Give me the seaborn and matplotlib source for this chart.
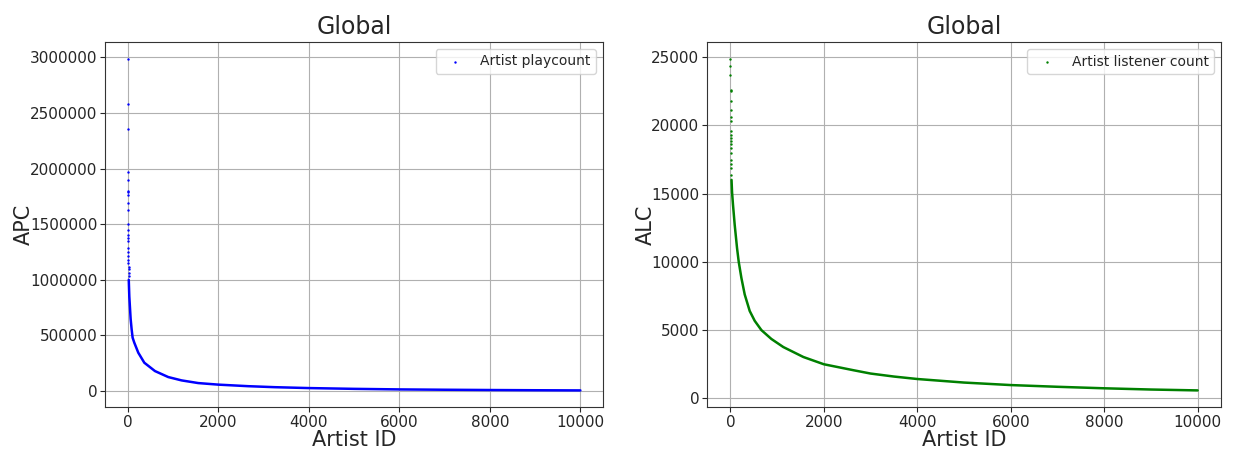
import pandas as pd
import matplotlib
matplotlib.use("Agg")
import matplotlib.pyplot as plt
import seaborn as sns

# values (artist id -> count)
apc_head = [2988000, 2581000, 2353000, 1973000, 1898000, 1802000, 1787000, 1763000,
            1692000, 1629000, 1503000, 1452000, 1407000, 1377000, 1347000, 1284000,
            1251000, 1213000, 1174000, 1147000, 1117000, 1093000, 1063000, 1033000]
apc_curve_x = [25, 37, 66, 88, 110, 147, 235, 368, 603, 897, 1191, 1559, 2000,
               2662, 3250, 4000, 5000, 6000, 7000, 8000, 9000, 10000]
apc_curve_y = [1000000, 850000, 650000, 556000, 480000, 435000, 345000, 255000,
               180000, 126000, 96000, 72000, 58000, 44000, 35000, 27000, 20000,
               15000, 12000, 9500, 7500, 6000]

alc_head = [24880, 24320, 23710, 22610, 22490, 21800, 21150, 20590, 20290, 19560,
            19320, 19070, 18830, 18590, 18340, 17980, 17490, 17170, 16880, 16390]
alc_curve_x = [25, 36, 57, 93, 143, 179, 236, 307, 414, 521, 664, 878, 1133, 1563,
               2000, 2638, 3000, 3500, 4000, 5000, 6000, 7000, 8000, 9000, 10000]
alc_curve_y = [16000, 15100, 14150, 12700, 11000, 10000, 8820, 7610, 6400, 5680,
               5000, 4350, 3760, 3030, 2500, 2060, 1820, 1600, 1420, 1160, 976,
               850, 740, 650, 585]

sns.set_style("ticks")
plt.rcParams['font.family'] = ['DejaVu Sans']

fig = plt.figure(figsize=(12.33, 4.51), dpi=100)
ax1 = fig.add_axes([105 / 1233, 44 / 451, 498 / 1233, 365 / 451])
ax2 = fig.add_axes([707 / 1233, 44 / 451, 514 / 1233, 365 / 451])


def draw_panel(ax, head, cx, cy, color, label, ylabel):
    head_df = pd.DataFrame({"id": list(range(len(head))), "count": head})
    curve_df = pd.DataFrame({"id": cx, "count": cy})

    # the dense tail of points reads as a solid line
    sns.lineplot(data=curve_df, x="id", y="count", ax=ax, color=color,
                 linewidth=1.8, legend=False)
    sns.scatterplot(data=head_df, x="id", y="count", ax=ax, color=color,
                    s=3, linewidth=0, label=label)

    ax.set_title("Global", fontsize=17, pad=6)
    ax.set_xlabel("Artist ID", fontsize=15, labelpad=0)
    ax.set_ylabel(ylabel, fontsize=15, labelpad=-3)
    ax.tick_params(labelsize=11, pad=2, length=3.5)
    ax.set_xticks([0, 2000, 4000, 6000, 8000, 10000])
    ax.grid(True, color="#b0b0b0", linewidth=0.8)
    ax.ticklabel_format(axis="y", style="plain", useOffset=False)
    for sp in ax.spines.values():
        sp.set_color("#333333")
    ax.legend(loc="upper right", fontsize=10, markerscale=1.0)


draw_panel(ax1, apc_head, apc_curve_x, apc_curve_y, "#0000ff",
           "Artist playcount", "APC")
draw_panel(ax2, alc_head, alc_curve_x, alc_curve_y, "#008000",
           "Artist listener count", "ALC")

ax1.set_yticks([0, 500000, 1000000, 1500000, 2000000, 2500000, 3000000])
ax2.set_yticks([0, 5000, 10000, 15000, 20000, 25000])

fig.savefig("out.png", dpi=100)
